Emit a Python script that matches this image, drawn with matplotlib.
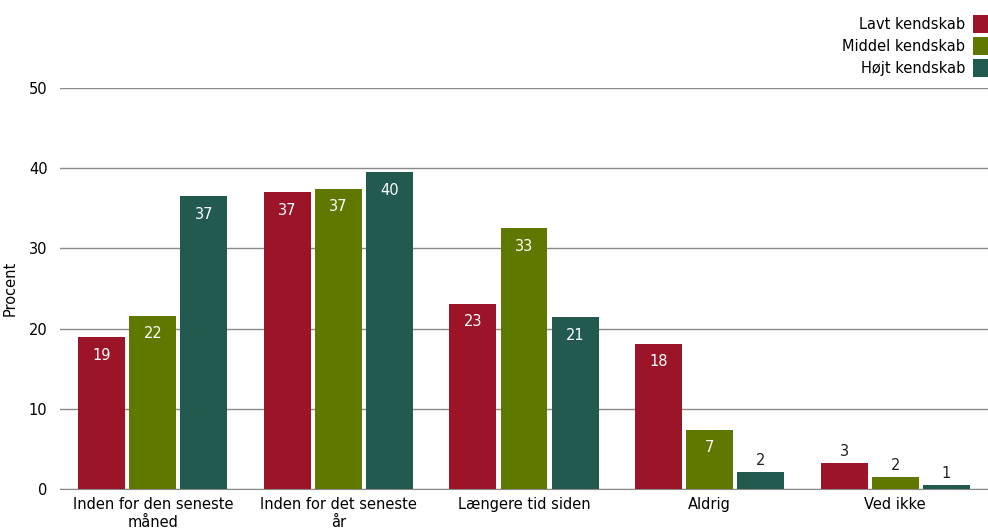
import matplotlib.pyplot as plt
import numpy as np

categories = ['Inden for den seneste\nmåned', 'Inden for det seneste\når', 'Længere tid siden', 'Aldrig', 'Ved ikke']
series_names = ['Lavt kendskab', 'Middel kendskab', 'Højt kendskab']
lavt = [18.9, 37.0, 23.1, 18.1, 3.2]
middel = [21.6, 37.4, 32.5, 7.4, 1.5]
hojt = [36.5, 39.5, 21.4, 2.1, 0.5]
colors = ['#9b1428', '#5f7800', '#225a50']

plt.rcParams['font.family'] = ['DejaVu Sans']

fig = plt.figure(figsize=(9.88, 5.32), dpi=100)
ax = fig.add_axes([0.0607, 0.0808, 0.9393, 0.7538])

x = np.arange(len(categories))
width = 0.253
step = 0.275
for i, (vals, name, col) in enumerate(zip([lavt, middel, hojt], series_names, colors)):
    pos = x + (i - 1) * step
    bars = ax.bar(pos, vals, width=width, color=col, label=name, zorder=3)
    for b, v in zip(bars, vals):
        cx = b.get_x() + b.get_width() / 2
        lbl = str(int(v + 0.5))
        if v > 5:
            ax.text(cx, v - 1.3, lbl, ha='center', va='top',
                    color='white', fontsize=10.5, zorder=4)
        else:
            ax.text(cx, v + 0.5, lbl, ha='center', va='bottom',
                    color='#222222', fontsize=10.5, zorder=4)

ax.set_xlim(-0.5, len(categories) - 0.5)
ax.set_ylim(0, 50)
ax.set_yticks([0, 10, 20, 30, 40, 50])
ax.set_xticks(x)
ax.set_xticklabels(categories, fontsize=10.5, linespacing=1.25)
ax.tick_params(axis='y', labelsize=10.5, length=0, pad=9)
ax.tick_params(axis='x', length=0, pad=6)
ax.grid(axis='y', color='#8a8a8a', linewidth=1, zorder=0)
for s in ['top', 'right', 'left']:
    ax.spines[s].set_visible(False)
ax.spines['bottom'].set_color('#8a8a8a')
ax.set_ylabel('Procent', fontsize=10.5)
ax.yaxis.set_label_coords(-0.046, 0.5)

leg = fig.legend(loc='upper right', bbox_to_anchor=(1.006, 0.982), frameon=False,
                 markerfirst=False, fontsize=10.5, handlelength=1.05, handleheight=1.5,
                 handletextpad=0.5, labelspacing=0.27, borderaxespad=0.0)
for t in leg.get_texts():
    t.set_ha('right')

fig.savefig('out.png', dpi=100)
